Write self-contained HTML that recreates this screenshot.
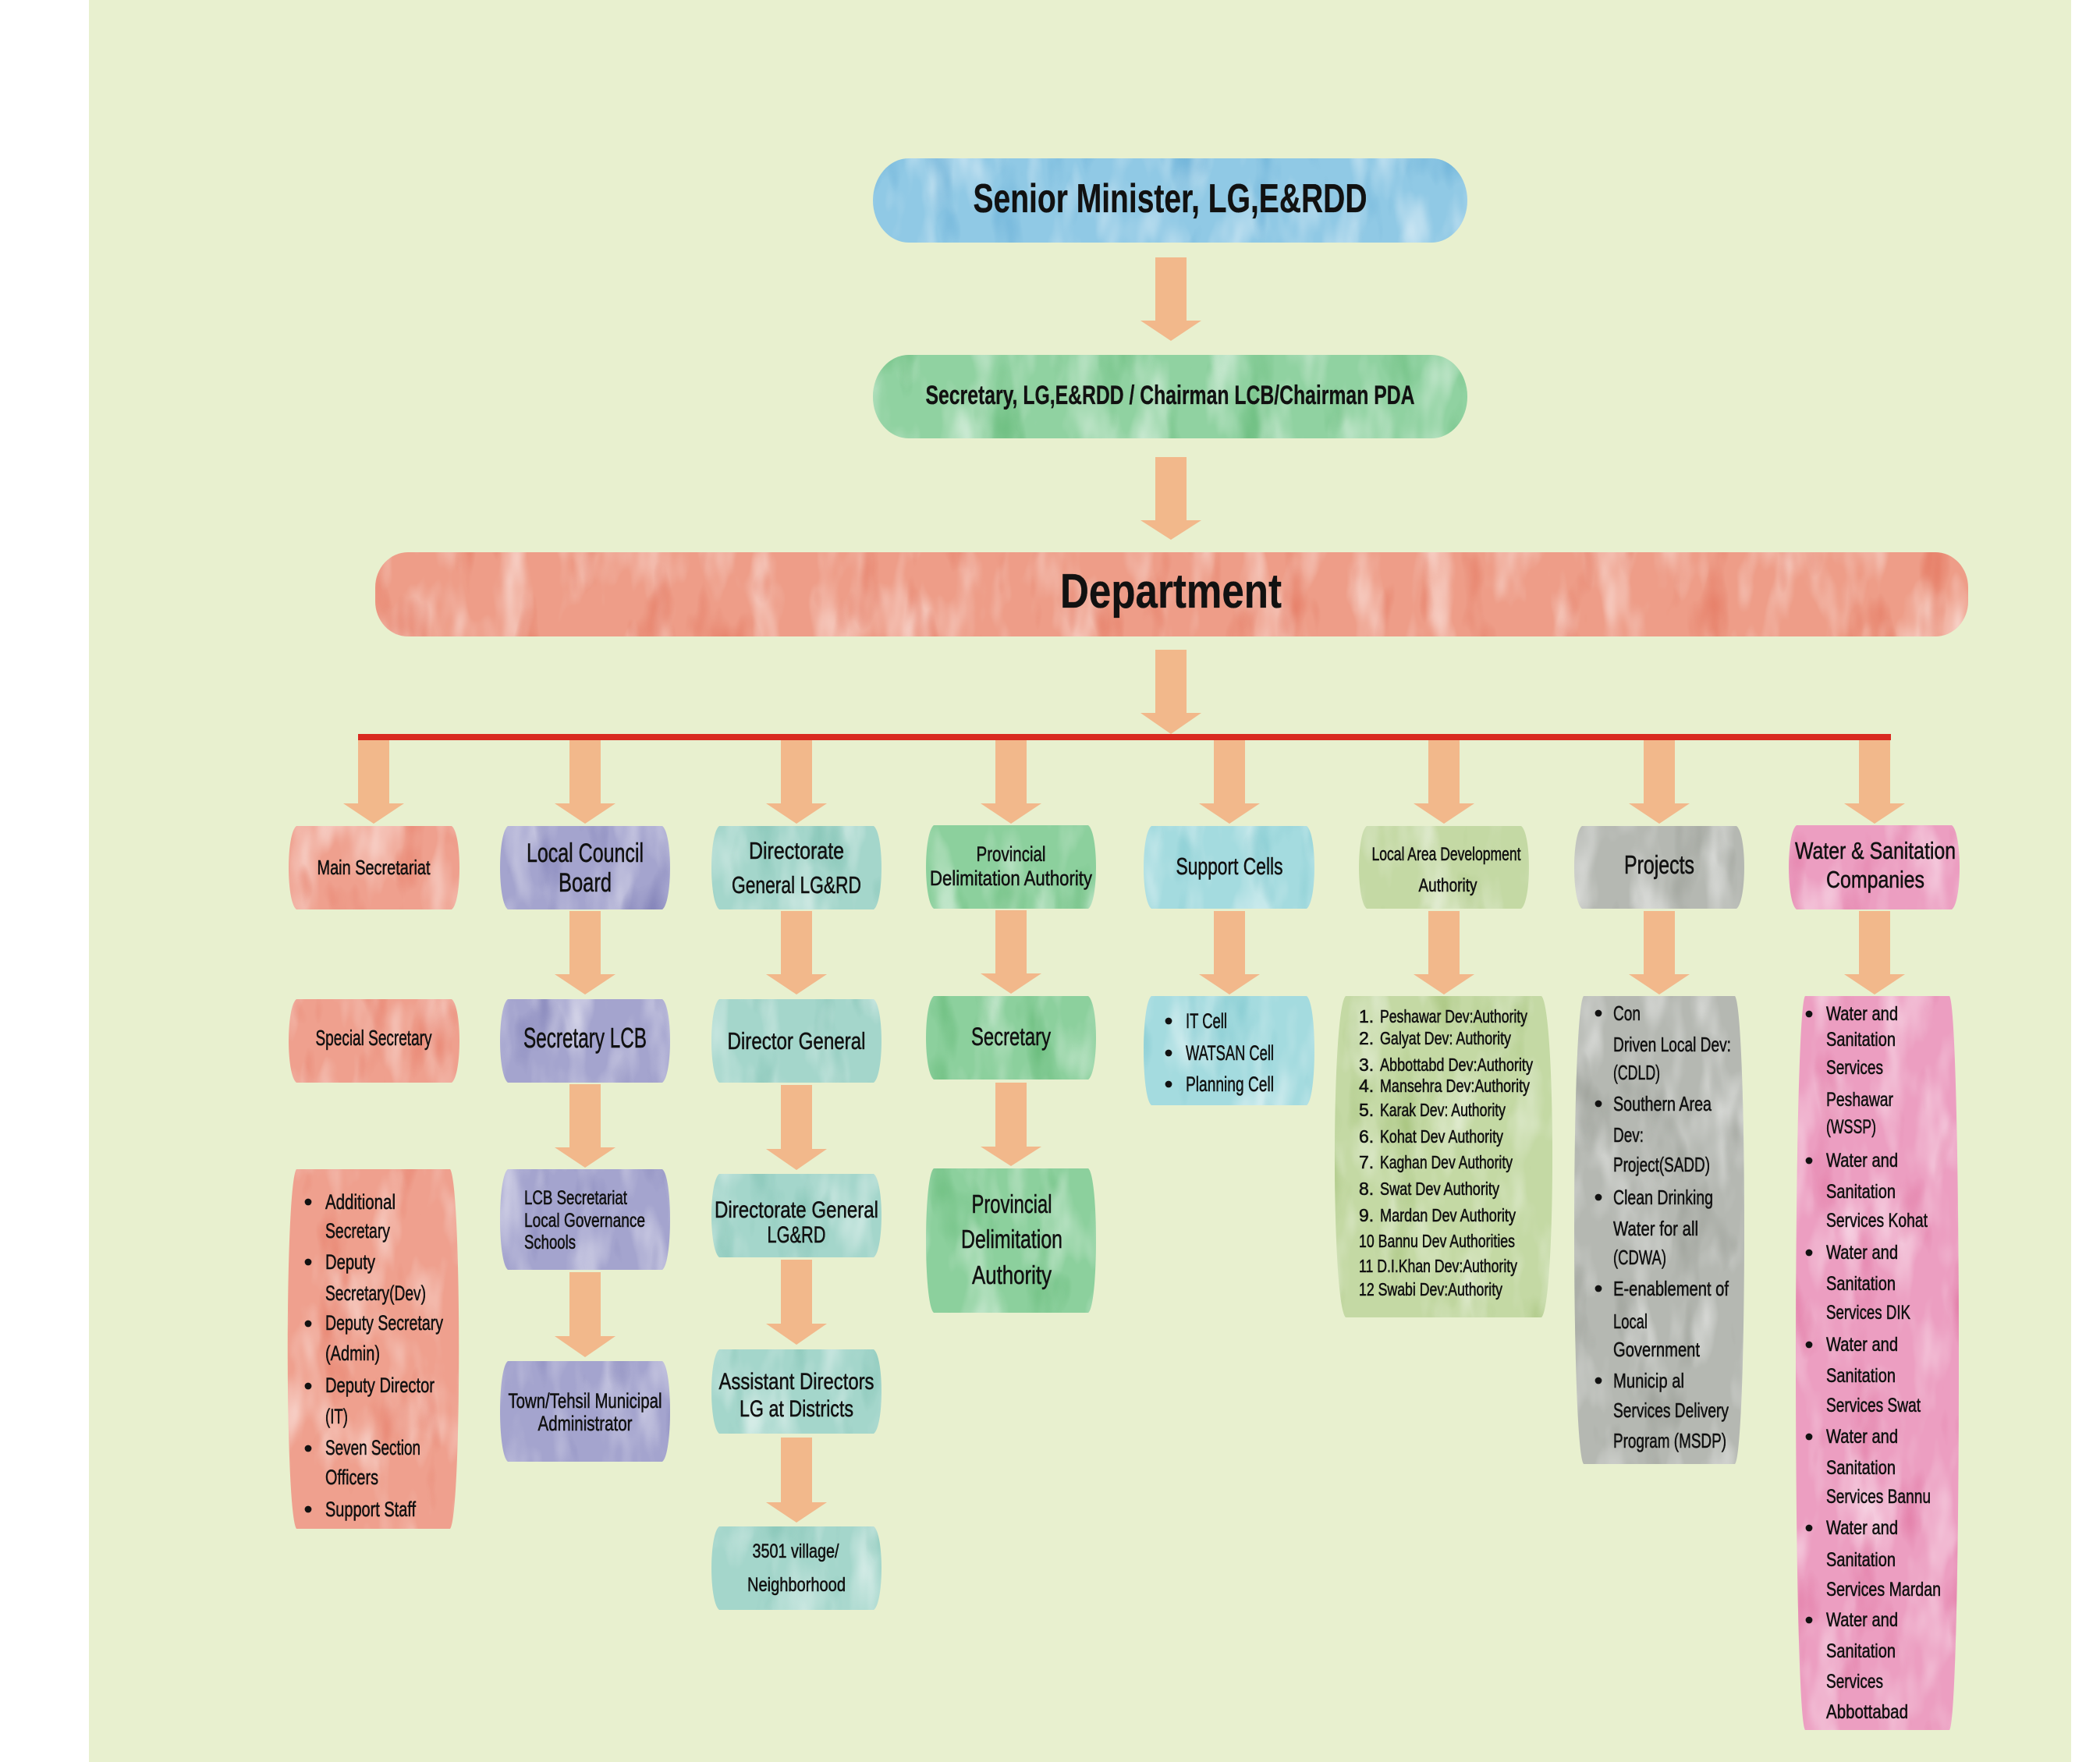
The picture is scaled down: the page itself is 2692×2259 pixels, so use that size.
<!DOCTYPE html>
<html>
<head>
<meta charset="utf-8">
<style>
html,body{margin:0;padding:0;background:#ffffff;}
svg{display:block;}
text{font-family:"Liberation Sans",Arial,sans-serif;fill:#111;stroke:#111;stroke-width:0.55;}
.b{font-weight:bold;stroke-width:0.3;}
</style>
</head>
<body>
<svg xmlns="http://www.w3.org/2000/svg" width="2692" height="2259" viewBox="0 0 2692 2259">
<defs>
<filter id="wc" x="-5%" y="-5%" width="110%" height="110%" color-interpolation-filters="sRGB">
  <feTurbulence type="fractalNoise" baseFrequency="0.022 0.008" numOctaves="3" seed="5" result="n"/>
  <feColorMatrix in="n" type="matrix" values="0 0 0 0 1  0 0 0 0 1  0 0 0 0 1  1.3 0 0 0 -0.62" result="lt"/>
  <feComposite in="lt" in2="SourceAlpha" operator="in" result="lt2"/>
  <feComponentTransfer in="SourceGraphic" result="dk">
    <feFuncR type="gamma" exponent="1.7"/>
    <feFuncG type="gamma" exponent="1.7"/>
    <feFuncB type="gamma" exponent="1.7"/>
  </feComponentTransfer>
  <feColorMatrix in="n" type="matrix" values="0 0 0 0 0  0 0 0 0 0  0 0 0 0 0  0 -2.2 0 0 0.92" result="dm"/>
  <feComposite in="dk" in2="dm" operator="in" result="dk2"/>
  <feMerge><feMergeNode in="SourceGraphic"/><feMergeNode in="lt2"/><feMergeNode in="dk2"/></feMerge>
</filter>
</defs>

<!-- background -->
<rect x="0" y="0" width="2692" height="2259" fill="#ffffff"/>
<rect x="114" y="0" width="2541" height="2259" fill="#e8f0cf"/>

<!-- top boxes -->
<g filter="url(#wc)">
<rect x="1119" y="203" width="762" height="108" rx="46" ry="54" fill="#90c9e5"/>
<rect x="1119" y="455" width="762" height="107" rx="46" ry="53" fill="#90d2a1"/>
<rect x="481" y="708" width="2042" height="108" rx="42" ry="45" fill="#ee9d88"/>
</g>

<!-- arrows -->
<g fill="#f2b88b">
<path d="M1481,330 H1521 V411 H1540 L1501,437 L1462,411 H1481 Z"/>
<path d="M1481,586 H1521 V667 H1540 L1501,692 L1462,667 H1481 Z"/>
<path d="M1481,833 H1521 V914 H1540 L1501,941 L1462,914 H1481 Z"/>
<path d="M459,949 H499 V1030 H518 L479,1056 L440,1030 H459 Z"/>
<path d="M730,949 H770 V1030 H789 L750,1056 L711,1030 H730 Z"/>
<path d="M1001,949 H1041 V1030 H1060 L1021,1056 L982,1030 H1001 Z"/>
<path d="M1276,949 H1316 V1030 H1335 L1296,1056 L1257,1030 H1276 Z"/>
<path d="M1556,949 H1596 V1030 H1615 L1576,1056 L1537,1030 H1556 Z"/>
<path d="M1831,949 H1871 V1030 H1890 L1851,1056 L1812,1030 H1831 Z"/>
<path d="M2107,949 H2147 V1030 H2166 L2127,1056 L2088,1030 H2107 Z"/>
<path d="M2383,949 H2423 V1030 H2442 L2403,1056 L2364,1030 H2383 Z"/>
<path d="M730,1168 H770 V1249 H789 L750,1275 L711,1249 H730 Z"/>
<path d="M1001,1168 H1041 V1249 H1060 L1021,1275 L982,1249 H1001 Z"/>
<path d="M1276,1167 H1316 V1248 H1335 L1296,1274 L1257,1248 H1276 Z"/>
<path d="M1556,1168 H1596 V1249 H1615 L1576,1275 L1537,1249 H1556 Z"/>
<path d="M1831,1168 H1871 V1249 H1890 L1851,1275 L1812,1249 H1831 Z"/>
<path d="M2107,1168 H2147 V1249 H2166 L2127,1275 L2088,1249 H2107 Z"/>
<path d="M2383,1168 H2423 V1249 H2442 L2403,1275 L2364,1249 H2383 Z"/>
<path d="M730,1390 H770 V1471 H789 L750,1497 L711,1471 H730 Z"/>
<path d="M1001,1391 H1041 V1473 H1060 L1021,1500 L982,1473 H1001 Z"/>
<path d="M1276,1388 H1316 V1470 H1335 L1296,1495 L1257,1470 H1276 Z"/>
<path d="M730,1631 H770 V1713 H789 L750,1740 L711,1713 H730 Z"/>
<path d="M1001,1615 H1041 V1697 H1060 L1021,1724 L982,1697 H1001 Z"/>
<path d="M1001,1843 H1041 V1926 H1060 L1021,1952 L982,1926 H1001 Z"/>
</g>

<!-- red bar -->
<rect x="459" y="941" width="1965" height="8" fill="#d92a20"/>

<!-- column boxes -->
<g filter="url(#wc)">
<path fill="#efa08e" d="M380,1059 H579 C592.3,1069 592.3,1156 579,1166 H380 C366.7,1156 366.7,1069 380,1059 Z"/>
<path fill="#efa08e" d="M380,1281 H579 C592.3,1291 592.3,1378 579,1388 H380 C366.7,1378 366.7,1291 380,1281 Z"/>
<path fill="#efa08e" d="M380,1499 H577 C592,1519 592,1940 577,1960 H380 C365,1940 365,1519 380,1499 Z"/>
<path fill="#a4a4ce" d="M651,1059 H849 C862.3,1069 862.3,1156 849,1166 H651 C637.7,1156 637.7,1069 651,1059 Z"/>
<path fill="#a4a4ce" d="M651,1281 H849 C862.3,1291 862.3,1378 849,1388 H651 C637.7,1378 637.7,1291 651,1281 Z"/>
<path fill="#a4a4ce" d="M651,1499 H849 C862.3,1509 862.3,1618 849,1628 H651 C637.7,1618 637.7,1509 651,1499 Z"/>
<path fill="#a4a4ce" d="M651,1745 H849 C862.3,1755 862.3,1864 849,1874 H651 C637.7,1864 637.7,1755 651,1745 Z"/>
<path fill="#a4d6cb" d="M922,1059 H1120 C1133.3,1069 1133.3,1156 1120,1166 H922 C908.7,1156 908.7,1069 922,1059 Z"/>
<path fill="#a4d6cb" d="M922,1281 H1120 C1133.3,1291 1133.3,1378 1120,1388 H922 C908.7,1378 908.7,1291 922,1281 Z"/>
<path fill="#a4d6cb" d="M922,1505 H1120 C1133.3,1515 1133.3,1602 1120,1612 H922 C908.7,1602 908.7,1515 922,1505 Z"/>
<path fill="#a4d6cb" d="M922,1730 H1120 C1133.3,1740 1133.3,1828 1120,1838 H922 C908.7,1828 908.7,1740 922,1730 Z"/>
<path fill="#a4d6cb" d="M922,1957 H1120 C1133.3,1967 1133.3,2054 1120,2064 H922 C908.7,2054 908.7,1967 922,1957 Z"/>
<path fill="#8cd09d" d="M1197,1058 H1395 C1408.3,1068 1408.3,1155 1395,1165 H1197 C1183.7,1155 1183.7,1068 1197,1058 Z"/>
<path fill="#8cd09d" d="M1197,1277 H1395 C1408.3,1287 1408.3,1374 1395,1384 H1197 C1183.7,1374 1183.7,1287 1197,1277 Z"/>
<path fill="#8cd09d" d="M1197,1498 H1395 C1408.3,1508 1408.3,1673 1395,1683 H1197 C1183.7,1673 1183.7,1508 1197,1498 Z"/>
<path fill="#a4dbdf" d="M1476,1059 H1675 C1688.3,1069 1688.3,1155 1675,1165 H1476 C1462.7,1155 1462.7,1069 1476,1059 Z"/>
<path fill="#a4dbdf" d="M1476,1277 H1675 C1688.3,1287 1688.3,1407 1675,1417 H1476 C1462.7,1407 1462.7,1287 1476,1277 Z"/>
<path fill="#c4d9a4" d="M1752,1059 H1950 C1963.3,1069 1963.3,1155 1950,1165 H1752 C1738.7,1155 1738.7,1069 1752,1059 Z"/>
<path fill="#c4d9a4" d="M1725,1277 H1976 C1994.7,1295 1994.7,1671 1976,1689 H1725 C1706.3,1671 1706.3,1295 1725,1277 Z"/>
<path fill="#b5b8b2" d="M2028,1059 H2226 C2239.3,1069 2239.3,1155 2226,1165 H2028 C2014.7,1155 2014.7,1069 2028,1059 Z"/>
<path fill="#b5b8b2" d="M2030,1277 H2224 C2240,1297 2240,1857 2224,1877 H2030 C2014,1857 2014,1297 2030,1277 Z"/>
<path fill="#ec9ec1" d="M2303,1058 H2502 C2515.3,1068 2515.3,1156 2502,1166 H2303 C2289.7,1156 2289.7,1068 2303,1058 Z"/>
<path fill="#ec9ec1" d="M2314,1277 H2499 C2515,1297 2515,2198 2499,2218 H2314 C2298,2198 2298,1297 2314,1277 Z"/>
</g>

<!-- top texts -->
<text class="b" x="1500" y="272" font-size="52" text-anchor="middle" textLength="505" lengthAdjust="spacingAndGlyphs">Senior Minister, LG,E&amp;RDD</text>
<text class="b" x="1500" y="518" font-size="34" text-anchor="middle" textLength="627" lengthAdjust="spacingAndGlyphs">Secretary, LG,E&amp;RDD / Chairman LCB/Chairman PDA</text>
<text class="b" x="1501" y="779" font-size="62" text-anchor="middle" textLength="284" lengthAdjust="spacingAndGlyphs">Department</text>

<!-- row1 texts -->
<text x="479" y="1121" font-size="26" text-anchor="middle" textLength="145" lengthAdjust="spacingAndGlyphs">Main Secretariat</text>
<text x="750" y="1105" font-size="34" text-anchor="middle" textLength="150" lengthAdjust="spacingAndGlyphs">Local Council</text>
<text x="750" y="1143" font-size="34" text-anchor="middle" textLength="68" lengthAdjust="spacingAndGlyphs">Board</text>
<text x="1021" y="1101" font-size="31" text-anchor="middle" textLength="122" lengthAdjust="spacingAndGlyphs">Directorate</text>
<text x="1021" y="1145" font-size="31" text-anchor="middle" textLength="166" lengthAdjust="spacingAndGlyphs">General LG&amp;RD</text>
<text x="1296" y="1104" font-size="27" text-anchor="middle" textLength="89" lengthAdjust="spacingAndGlyphs">Provincial</text>
<text x="1296" y="1135" font-size="27" text-anchor="middle" textLength="208" lengthAdjust="spacingAndGlyphs">Delimitation Authority</text>
<text x="1576" y="1121" font-size="31" text-anchor="middle" textLength="137" lengthAdjust="spacingAndGlyphs">Support Cells</text>
<text x="1854" y="1103" font-size="24" text-anchor="middle" textLength="191" lengthAdjust="spacingAndGlyphs">Local Area Development</text>
<text x="1856" y="1143" font-size="24" text-anchor="middle" textLength="75" lengthAdjust="spacingAndGlyphs">Authority</text>
<text x="2127" y="1120" font-size="33" text-anchor="middle" textLength="90" lengthAdjust="spacingAndGlyphs">Projects</text>
<text x="2404" y="1101" font-size="31" text-anchor="middle" textLength="206" lengthAdjust="spacingAndGlyphs">Water &amp; Sanitation</text>
<text x="2404" y="1138" font-size="31" text-anchor="middle" textLength="126" lengthAdjust="spacingAndGlyphs">Companies</text>

<!-- row2 texts -->
<text x="479" y="1340" font-size="28" text-anchor="middle" textLength="149" lengthAdjust="spacingAndGlyphs">Special Secretary</text>
<text x="750" y="1343" font-size="36" text-anchor="middle" textLength="158" lengthAdjust="spacingAndGlyphs">Secretary LCB</text>
<text x="1021" y="1345" font-size="31" text-anchor="middle" textLength="177" lengthAdjust="spacingAndGlyphs">Director General</text>
<text x="1296" y="1340" font-size="32" text-anchor="middle" textLength="102" lengthAdjust="spacingAndGlyphs">Secretary</text>

<!-- support list -->
<g fill="#111">
<circle cx="1498" cy="1309" r="4.4"/>
<circle cx="1498" cy="1350" r="4.4"/>
<circle cx="1498" cy="1390" r="4.4"/>
</g>
<text x="1520" y="1318" font-size="27" textLength="53" lengthAdjust="spacingAndGlyphs">IT Cell</text>
<text x="1520" y="1359" font-size="27" textLength="113" lengthAdjust="spacingAndGlyphs">WATSAN Cell</text>
<text x="1520" y="1399" font-size="27" textLength="113" lengthAdjust="spacingAndGlyphs">Planning Cell</text>

<!-- LADA list -->
<g font-size="23">
<text x="1742" y="1311">1.</text><text x="1769" y="1311" textLength="189" lengthAdjust="spacingAndGlyphs">Peshawar Dev:Authority</text>
<text x="1742" y="1339">2.</text><text x="1769" y="1339" textLength="168" lengthAdjust="spacingAndGlyphs">Galyat Dev: Authority</text>
<text x="1742" y="1373">3.</text><text x="1769" y="1373" textLength="196" lengthAdjust="spacingAndGlyphs">Abbottabd Dev:Authority</text>
<text x="1742" y="1400">4.</text><text x="1769" y="1400" textLength="192" lengthAdjust="spacingAndGlyphs">Mansehra Dev:Authority</text>
<text x="1742" y="1431">5.</text><text x="1769" y="1431" textLength="161" lengthAdjust="spacingAndGlyphs">Karak Dev: Authority</text>
<text x="1742" y="1465">6.</text><text x="1769" y="1465" textLength="158" lengthAdjust="spacingAndGlyphs">Kohat Dev Authority</text>
<text x="1742" y="1498">7.</text><text x="1769" y="1498" textLength="170" lengthAdjust="spacingAndGlyphs">Kaghan Dev Authority</text>
<text x="1742" y="1532">8.</text><text x="1769" y="1532" textLength="153" lengthAdjust="spacingAndGlyphs">Swat Dev  Authority</text>
<text x="1742" y="1566">9.</text><text x="1769" y="1566" textLength="174" lengthAdjust="spacingAndGlyphs">Mardan Dev Authority</text>
<text x="1742" y="1599" textLength="200" lengthAdjust="spacingAndGlyphs">10 Bannu Dev Authorities</text>
<text x="1742" y="1631" textLength="203" lengthAdjust="spacingAndGlyphs">11 D.I.Khan Dev:Authority</text>
<text x="1742" y="1661" textLength="184" lengthAdjust="spacingAndGlyphs">12 Swabi Dev:Authority</text>
</g>

<!-- Projects list -->
<g fill="#111">
<circle cx="2049" cy="1299" r="4.4"/>
<circle cx="2049" cy="1415" r="4.4"/>
<circle cx="2049" cy="1535" r="4.4"/>
<circle cx="2049" cy="1652" r="4.4"/>
<circle cx="2049" cy="1770" r="4.4"/>
</g>
<g font-size="26">
<text x="2068" y="1308" textLength="35" lengthAdjust="spacingAndGlyphs">Con</text>
<text x="2068" y="1348" textLength="151" lengthAdjust="spacingAndGlyphs">Driven Local Dev:</text>
<text x="2068" y="1384" textLength="60" lengthAdjust="spacingAndGlyphs">(CDLD)</text>
<text x="2068" y="1424" textLength="126" lengthAdjust="spacingAndGlyphs">Southern Area</text>
<text x="2068" y="1464" textLength="39" lengthAdjust="spacingAndGlyphs">Dev:</text>
<text x="2068" y="1502" textLength="124" lengthAdjust="spacingAndGlyphs">Project(SADD)</text>
<text x="2068" y="1544" textLength="128" lengthAdjust="spacingAndGlyphs">Clean Drinking</text>
<text x="2068" y="1584" textLength="109" lengthAdjust="spacingAndGlyphs">Water for all</text>
<text x="2068" y="1621" textLength="68" lengthAdjust="spacingAndGlyphs">(CDWA)</text>
<text x="2068" y="1661" textLength="148" lengthAdjust="spacingAndGlyphs">E-enablement of</text>
<text x="2068" y="1703" textLength="44" lengthAdjust="spacingAndGlyphs">Local</text>
<text x="2068" y="1739" textLength="111" lengthAdjust="spacingAndGlyphs">Government</text>
<text x="2068" y="1779" textLength="91" lengthAdjust="spacingAndGlyphs">Municip al</text>
<text x="2068" y="1817" textLength="148" lengthAdjust="spacingAndGlyphs">Services Delivery</text>
<text x="2068" y="1856" textLength="145" lengthAdjust="spacingAndGlyphs">Program (MSDP)</text>
</g>

<!-- Water list -->
<g fill="#111">
<circle cx="2319" cy="1300" r="4.4"/>
<circle cx="2319" cy="1488" r="4.4"/>
<circle cx="2319" cy="1606" r="4.4"/>
<circle cx="2319" cy="1724" r="4.4"/>
<circle cx="2319" cy="1842" r="4.4"/>
<circle cx="2319" cy="1959" r="4.4"/>
<circle cx="2319" cy="2077" r="4.4"/>
</g>
<g font-size="25">
<text x="2341" y="1308" textLength="92" lengthAdjust="spacingAndGlyphs">Water and</text>
<text x="2341" y="1341" textLength="89" lengthAdjust="spacingAndGlyphs">Sanitation</text>
<text x="2341" y="1377" textLength="73" lengthAdjust="spacingAndGlyphs">Services</text>
<text x="2341" y="1418" textLength="86" lengthAdjust="spacingAndGlyphs">Peshawar</text>
<text x="2341" y="1453" textLength="64" lengthAdjust="spacingAndGlyphs">(WSSP)</text>
<text x="2341" y="1496" textLength="92" lengthAdjust="spacingAndGlyphs">Water and</text>
<text x="2341" y="1536" textLength="89" lengthAdjust="spacingAndGlyphs">Sanitation</text>
<text x="2341" y="1573" textLength="130" lengthAdjust="spacingAndGlyphs">Services Kohat</text>
<text x="2341" y="1614" textLength="92" lengthAdjust="spacingAndGlyphs">Water and</text>
<text x="2341" y="1654" textLength="89" lengthAdjust="spacingAndGlyphs">Sanitation</text>
<text x="2341" y="1691" textLength="108" lengthAdjust="spacingAndGlyphs">Services DIK</text>
<text x="2341" y="1732" textLength="92" lengthAdjust="spacingAndGlyphs">Water and</text>
<text x="2341" y="1772" textLength="89" lengthAdjust="spacingAndGlyphs">Sanitation</text>
<text x="2341" y="1810" textLength="121" lengthAdjust="spacingAndGlyphs">Services Swat</text>
<text x="2341" y="1850" textLength="92" lengthAdjust="spacingAndGlyphs">Water and</text>
<text x="2341" y="1890" textLength="89" lengthAdjust="spacingAndGlyphs">Sanitation</text>
<text x="2341" y="1927" textLength="134" lengthAdjust="spacingAndGlyphs">Services Bannu</text>
<text x="2341" y="1967" textLength="92" lengthAdjust="spacingAndGlyphs">Water and</text>
<text x="2341" y="2008" textLength="89" lengthAdjust="spacingAndGlyphs">Sanitation</text>
<text x="2341" y="2046" textLength="147" lengthAdjust="spacingAndGlyphs">Services Mardan</text>
<text x="2341" y="2085" textLength="92" lengthAdjust="spacingAndGlyphs">Water and</text>
<text x="2341" y="2125" textLength="89" lengthAdjust="spacingAndGlyphs">Sanitation</text>
<text x="2341" y="2164" textLength="73" lengthAdjust="spacingAndGlyphs">Services</text>
<text x="2341" y="2203" textLength="105" lengthAdjust="spacingAndGlyphs">Abbottabad</text>
</g>

<!-- Main Secretariat list -->
<g fill="#111">
<circle cx="395" cy="1541" r="4.4"/>
<circle cx="395" cy="1618" r="4.4"/>
<circle cx="395" cy="1697" r="4.4"/>
<circle cx="395" cy="1777" r="4.4"/>
<circle cx="395" cy="1857" r="4.4"/>
<circle cx="395" cy="1935" r="4.4"/>
</g>
<g font-size="27">
<text x="417" y="1550" textLength="90" lengthAdjust="spacingAndGlyphs">Additional</text>
<text x="417" y="1587" textLength="83" lengthAdjust="spacingAndGlyphs">Secretary</text>
<text x="417" y="1627" textLength="64" lengthAdjust="spacingAndGlyphs">Deputy</text>
<text x="417" y="1667" textLength="129" lengthAdjust="spacingAndGlyphs">Secretary(Dev)</text>
<text x="417" y="1705" textLength="151" lengthAdjust="spacingAndGlyphs">Deputy Secretary</text>
<text x="417" y="1744" textLength="70" lengthAdjust="spacingAndGlyphs">(Admin)</text>
<text x="417" y="1785" textLength="140" lengthAdjust="spacingAndGlyphs">Deputy Director</text>
<text x="417" y="1825" textLength="29" lengthAdjust="spacingAndGlyphs">(IT)</text>
<text x="417" y="1865" textLength="122" lengthAdjust="spacingAndGlyphs">Seven Section</text>
<text x="417" y="1903" textLength="68" lengthAdjust="spacingAndGlyphs">Officers</text>
<text x="417" y="1944" textLength="116" lengthAdjust="spacingAndGlyphs">Support Staff</text>
</g>

<!-- row3 texts -->
<text x="672" y="1544" font-size="25" textLength="132" lengthAdjust="spacingAndGlyphs">LCB Secretariat</text>
<text x="672" y="1573" font-size="25" textLength="155" lengthAdjust="spacingAndGlyphs">Local Governance</text>
<text x="672" y="1601" font-size="25" textLength="66" lengthAdjust="spacingAndGlyphs">Schools</text>
<text x="1021" y="1561" font-size="30" text-anchor="middle" textLength="210" lengthAdjust="spacingAndGlyphs">Directorate General</text>
<text x="1021" y="1593" font-size="30" text-anchor="middle" textLength="75" lengthAdjust="spacingAndGlyphs">LG&amp;RD</text>
<text x="1297" y="1555" font-size="33" text-anchor="middle" textLength="103" lengthAdjust="spacingAndGlyphs">Provincial</text>
<text x="1297" y="1600" font-size="33" text-anchor="middle" textLength="130" lengthAdjust="spacingAndGlyphs">Delimitation</text>
<text x="1297" y="1646" font-size="33" text-anchor="middle" textLength="102" lengthAdjust="spacingAndGlyphs">Authority</text>

<!-- row4 texts -->
<text x="750" y="1805" font-size="27" text-anchor="middle" textLength="197" lengthAdjust="spacingAndGlyphs">Town/Tehsil Municipal</text>
<text x="750" y="1834" font-size="27" text-anchor="middle" textLength="121" lengthAdjust="spacingAndGlyphs">Administrator</text>
<text x="1021" y="1781" font-size="30" text-anchor="middle" textLength="199" lengthAdjust="spacingAndGlyphs">Assistant Directors</text>
<text x="1021" y="1816" font-size="30" text-anchor="middle" textLength="146" lengthAdjust="spacingAndGlyphs">LG at Districts</text>

<!-- row5 texts -->
<text x="1020" y="1997" font-size="25" text-anchor="middle" textLength="111" lengthAdjust="spacingAndGlyphs">3501 village/</text>
<text x="1021" y="2040" font-size="25" text-anchor="middle" textLength="126" lengthAdjust="spacingAndGlyphs">Neighborhood</text>
</svg>
</body>
</html>
